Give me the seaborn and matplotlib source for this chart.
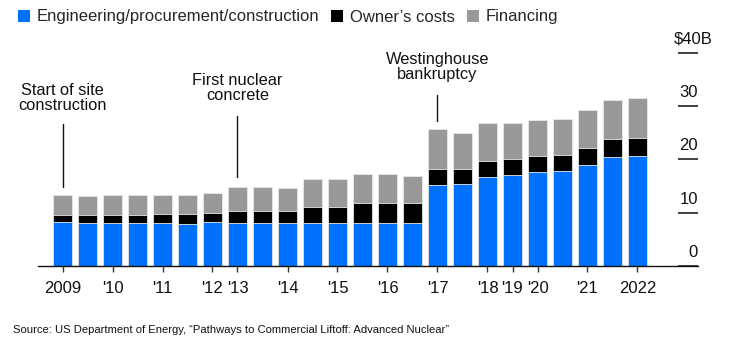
import matplotlib
matplotlib.use("Agg")
import matplotlib.pyplot as plt
import matplotlib.transforms as mtransforms
from matplotlib import font_manager
from matplotlib.patches import Patch
import numpy as np
import pandas as pd
import seaborn as sns

# ---- data (billions USD), half-year periods 2009 H1 .. 2022 H2 ----
periods = [f"P{i}" for i in range(24)]
epc = [8.25, 8.0, 8.0, 8.0, 8.0, 7.95, 8.25, 8.0, 8.0, 8.0, 8.0, 8.0,
       8.0, 8.0, 8.0, 15.25, 15.4, 16.6, 17.0, 17.6, 17.8, 19.0, 20.5, 20.7]
owner = [1.3, 1.5, 1.5, 1.55, 1.75, 1.75, 1.75, 2.4, 2.4, 2.4, 3.0, 3.0,
         3.9, 3.9, 3.9, 2.85, 2.8, 3.1, 3.05, 3.0, 3.1, 3.2, 3.25, 3.35]
financing = [3.7, 3.6, 3.75, 3.7, 3.65, 3.6, 3.7, 4.5, 4.35, 4.2, 5.4, 5.25,
             5.3, 5.3, 5.0, 7.5, 6.7, 7.05, 6.85, 6.8, 6.7, 7.0, 7.45, 7.45]

tick_idx = [0, 2, 4, 6, 7, 9, 11, 13, 15, 17, 18, 19, 21, 23]
tick_labels = ["2009", "'10", "'11", "'12", "'13", "'14", "'15", "'16",
               "'17", "'18", "'19", "'20", "'21", "2022"]
y_ticks = [0, 10, 20, 30, 40]
y_labels = ["0", "10", "20", "30", "$40B"]

series_names = ["Engineering/procurement/construction", "Owner\u2019s costs", "Financing"]
colors = ["#0070ff", "#000000", "#999999"]

annotations = [
    (0, "Start of site\nconstruction", 31.5, 26.6, 14.9),
    (7, "First nuclear\nconcrete", 33.4, 28.1, 16.7),
    (15, "Westinghouse\nbankruptcy", 37.4, 32.1, 27.2),
]

source = "Source: US Department of Energy, \u201cPathways to Commercial Liftoff: Advanced Nuclear\u201d"

# ---- build cumulative table ----
df = pd.DataFrame({"period": periods, "epc": epc, "owner": owner, "fin": financing})
df["c1"] = df["epc"]
df["c2"] = df["epc"] + df["owner"]
df["c3"] = df["c2"] + df["fin"]

sns.set_theme(style="white")
plt.rcParams["font.family"] = ["Liberation Sans", "DejaVu Sans"]

names = {f.name for f in font_manager.fontManager.ttflist}
if "Liberation Sans Narrow" in names:
    src_family, src_size = ["Liberation Sans Narrow", "DejaVu Sans"], 10.2
else:
    src_family, src_size = ["Liberation Sans", "DejaVu Sans"], 8.1

fig = plt.figure(figsize=(7.34, 3.48), dpi=100)
W, H = 734, 348
ax = fig.add_axes([37.5 / W, (H - 266) / H, 660.5 / W, (266 - 52.7) / H])

for col, c in zip(["c3", "c2", "c1"], [colors[2], colors[1], colors[0]]):
    sns.barplot(data=df, x="period", y=col, color=c, width=0.74, ax=ax,
                saturation=1, edgecolor="#e8e8e8", linewidth=0.6, errorbar=None)

ax.set_xlim(-1.0, 25.42)
ax.set_ylim(0, 40)
ax.set_xlabel("")
ax.set_ylabel("")

for s in ["top", "left", "right"]:
    ax.spines[s].set_visible(False)
ax.spines["bottom"].set_color("#111111")
ax.spines["bottom"].set_linewidth(1.0)

ax.set_xticks(tick_idx)
ax.set_xticklabels(tick_labels, fontsize=12, color="#111111")
ax.tick_params(axis="x", bottom=True, length=4.5, width=1, color="#333333", pad=6.5)

ax.yaxis.tick_right()
ax.set_yticks(y_ticks)
ax.tick_params(axis="y", right=True, left=False, direction="in", length=14.4,
               width=1.3, colors="#333333", labelright=False, labelleft=False)
ytl = ax.yaxis.get_major_ticks()
ytl[-1].tick2line.set_color("#888888")

trans = mtransforms.blended_transform_factory(ax.transAxes, ax.transData)
off = mtransforms.ScaledTranslation(0, 6 / 100, fig.dpi_scale_trans)
for v, lab in zip(y_ticks, y_labels):
    if lab.startswith("$"):
        t = trans + mtransforms.ScaledTranslation(15 / 100, 6 / 100, fig.dpi_scale_trans)
    else:
        t = trans + off
    ax.text(1.0, v, lab, transform=t, ha="right", va="bottom", fontsize=12,
            color="#111111")

for xi, txt, ty, y0, y1 in annotations:
    ax.text(xi, ty, txt, ha="center", va="center", fontsize=11.8,
            linespacing=1.0, color="#111111")
    ax.plot([xi, xi], [y0, y1], color="#111111", lw=1)

handles = [Patch(facecolor=c, edgecolor="none") for c in colors]
fig.legend(handles, series_names, loc="center left",
           bbox_to_anchor=(18 / W, (H - 17) / H), ncol=3, frameon=False,
           fontsize=12, handlelength=0.7, handleheight=0.7,
           handletextpad=0.4, columnspacing=0.75, borderpad=0, borderaxespad=0)

fig.text(13 / W, (H - 330) / H, source, ha="left", va="center",
         fontsize=src_size, family=src_family, color="#111111")

fig.savefig("out.png", dpi=100)
